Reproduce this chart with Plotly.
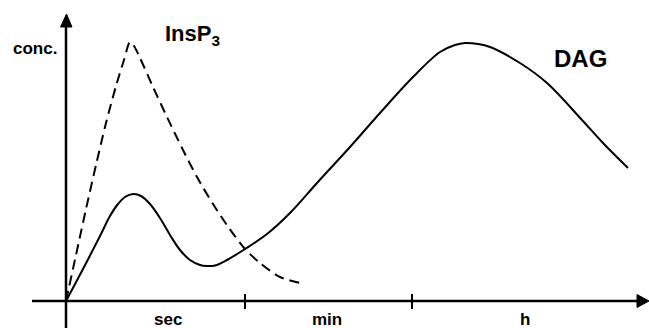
import plotly.graph_objects as go

# Time axis (arbitrary units, origin at 0) and concentrations (arbitrary units)
dag_t = [0, 1.7, 3.4, 4.4, 5.2, 5.9, 6.7, 7.5, 8.4, 9.4, 10.4, 11.4, 12.4, 13.4, 14.1,
         14.9, 16.1, 17.9, 20.1, 22.4, 25.1, 28.4, 31.4, 34.7, 37.4, 38.9, 39.9, 41.2,
         42.4, 45.4, 48.1, 51.6, 53.7, 56.2]
dag_c = [0, 3.2, 6.5, 8.5, 9.7, 10.4, 10.7, 10.5, 9.7, 8.3, 6.6, 5.1, 4.1, 3.6, 3.5,
         3.55, 4.1, 5.2, 6.7, 8.8, 11.8, 15.4, 18.8, 22.4, 24.9, 25.6, 25.8, 25.7,
         25.4, 23.8, 21.8, 18.1, 15.8, 13.3]

ins_t = [0, 1.0, 2.0, 3.0, 4.0, 5.0, 5.8, 6.4, 6.8, 7.4, 8.7, 10.1, 11.6, 13.1, 14.7,
         16.3, 17.9, 19.4, 21.4, 23.4]
ins_c = [0, 4.6, 9.2, 13.6, 17.8, 21.5, 24.1, 25.9, 25.5, 24.3, 21.4, 18.4, 15.3, 12.4,
         9.7, 7.3, 5.2, 3.8, 2.4, 1.8]

# Axis divisions and labels
tick_pos = [17.9, 34.6]
period_labels = ["sec", "min", "h"]
period_pos = [10.2, 26.1, 45.9]
series_labels = ["InsP<sub>3</sub>", "DAG"]

X_RANGE = [-6.6, 58.3]
Y_RANGE = [-2.7, 30.1]

fig = go.Figure()
fig.add_trace(go.Scatter(x=ins_t, y=ins_c, mode="lines",
                         line=dict(color="black", width=2, dash="10px,6px",
                                   shape="spline", smoothing=0.8),
                         hoverinfo="skip", showlegend=False))
fig.add_trace(go.Scatter(x=dag_t, y=dag_c, mode="lines",
                         line=dict(color="black", width=2, shape="spline", smoothing=1.0),
                         hoverinfo="skip", showlegend=False))

shapes = []
# x axis line + arrowhead
shapes.append(dict(type="line", xref="x", yref="y", x0=-3.4, x1=57.4, y0=0, y1=0,
                   line=dict(color="black", width=2.5)))
shapes.append(dict(type="path", xref="x", yref="y",
                   path="M 57.1 0.65 L 58.3 0 L 57.1 -0.65 Z",
                   fillcolor="black", line=dict(color="black", width=1)))
# y axis line + arrowhead
shapes.append(dict(type="line", xref="x", yref="y", x0=0, x1=0, y0=-2.8, y1=27.6,
                   line=dict(color="black", width=2.5)))
shapes.append(dict(type="path", xref="x", yref="y",
                   path="M -0.55 27.4 L 0.05 28.7 L 0.6 27.4 Z",
                   fillcolor="black", line=dict(color="black", width=1)))
for t in tick_pos:
    shapes.append(dict(type="line", xref="x", yref="y", x0=t, x1=t, y0=0.7, y1=-0.8,
                       line=dict(color="black", width=2)))

font = dict(family="Liberation Sans, Arial, sans-serif", color="black")
ann = []
ann.append(dict(x=-3.1, y=25.3, text="<b>conc.</b>", showarrow=False,
                font=dict(size=17, **font)))
ann.append(dict(x=9.7, y=26.6, text="<b>" + series_labels[0] + "</b>", showarrow=False,
                xanchor="left", font=dict(size=22, **font)))
ann.append(dict(x=51.4, y=24.3, text="<b>" + series_labels[1] + "</b>", showarrow=False,
                font=dict(size=24, **font)))
for lab, p in zip(period_labels, period_pos):
    ann.append(dict(x=p, y=-1.85, text="<b>" + lab + "</b>", showarrow=False,
                    font=dict(size=17, **font)))

fig.update_layout(
    width=649, height=328,
    margin=dict(l=0, r=0, t=0, b=0),
    paper_bgcolor="white", plot_bgcolor="white",
    xaxis=dict(range=X_RANGE, visible=False, fixedrange=True),
    yaxis=dict(range=Y_RANGE, visible=False, fixedrange=True),
    shapes=shapes, annotations=ann, showlegend=False,
)
fig.write_html("out.html", config={"displayModeBar": False},
               post_script="document.body.style.margin='0';document.body.style.overflow='hidden';")
